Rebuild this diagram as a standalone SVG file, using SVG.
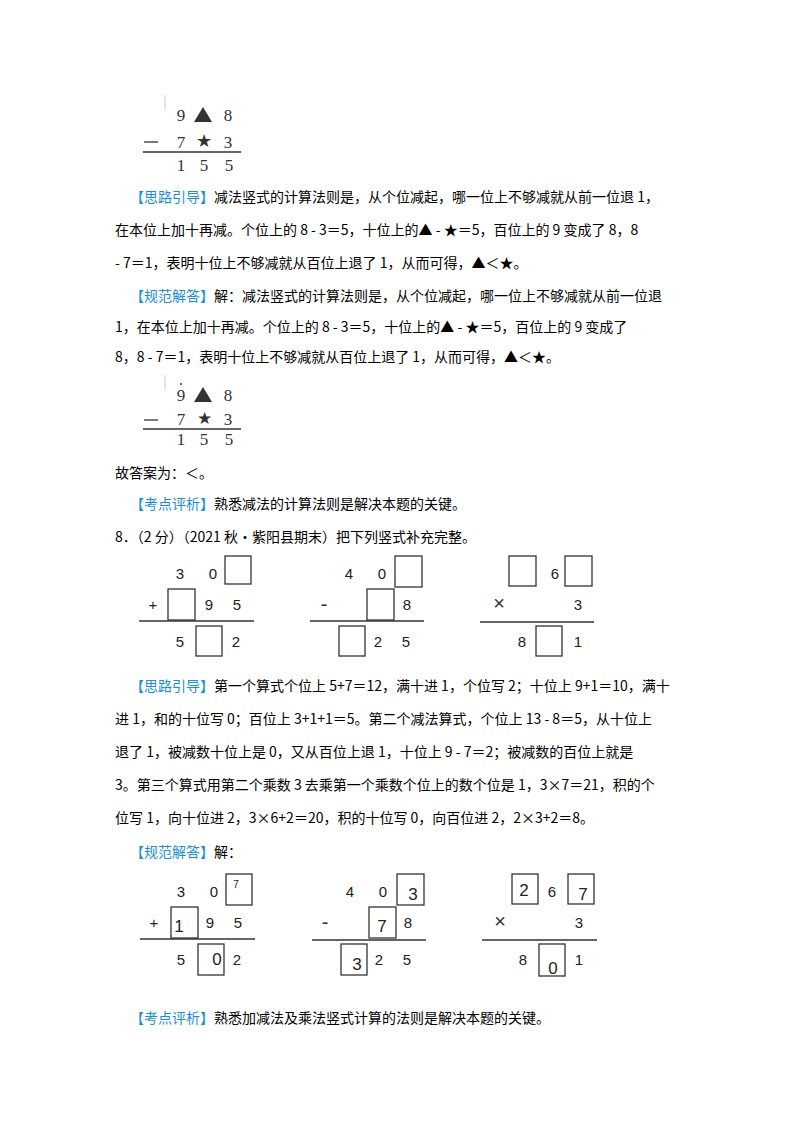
<svg xmlns="http://www.w3.org/2000/svg" width="800" height="1132" viewBox="0 0 800 1132">
<style>
text{font-family:"Noto Sans CJK SC","Liberation Serif",serif;font-size:14px;fill:#000}
.b{fill:#1a8fd6}
.d{font-family:"Liberation Sans",sans-serif;font-size:15px;text-anchor:middle;fill:#222}
.op{font-family:"Liberation Sans",sans-serif;font-size:20px;text-anchor:middle;fill:#333}
.s{font-family:"Liberation Serif",serif;font-size:17px;text-anchor:middle;fill:#333}
.box{fill:none;stroke:#333;stroke-width:1.3}
.ln{stroke:#333;stroke-width:1.3}
.a{font-family:"Liberation Sans",sans-serif;font-size:17px;text-anchor:middle;fill:#222}
</style>
<rect width="800" height="1132" fill="#fff"/>
<g id="fig1">
<line x1="165" y1="95" x2="165" y2="110" stroke="#ccc"/>
<text class="s" x="181" y="121">9</text><polygon points="203,107 194,122 212,122" fill="#333"/><text class="s" x="228" y="121">8</text>
<line x1="144" y1="142" x2="158" y2="142" class="ln"/><text class="s" x="181" y="148">7</text><text class="s" x="204" y="147" style="font-size:18px">★</text><text class="s" x="228" y="148">3</text>
<line x1="143" y1="152" x2="241" y2="152" class="ln"/>
<text class="s" x="181" y="171">1</text><text class="s" x="204" y="171">5</text><text class="s" x="229" y="171">5</text>
</g>
<g id="text1">
<text x="130" y="202"><tspan class="b">【思路引导】</tspan>减法竖式的计算法则是，从个位减起，哪一位上不够减就从前一位退 1，</text>
<text x="115" y="235">在本位上加十再减。个位上的 8 - 3＝5，十位上的▲ - ★＝5，百位上的 9 变成了 8，8</text>
<text x="115" y="268">- 7＝1，表明十位上不够减就从百位上退了 1，从而可得，▲＜★。</text>
<text x="130" y="301"><tspan class="b">【规范解答】</tspan>解：减法竖式的计算法则是，从个位减起，哪一位上不够减就从前一位退</text>
<text x="115" y="332">1，在本位上加十再减。个位上的 8 - 3＝5，十位上的▲ - ★＝5，百位上的 9 变成了</text>
<text x="115" y="362">8，8 - 7＝1，表明十位上不够减就从百位上退了 1，从而可得，▲＜★。</text>
</g>
<g id="fig2">
<line x1="165" y1="375" x2="165" y2="390" stroke="#ccc"/>
<circle cx="181" cy="384" r="1" fill="#333"/>
<text class="s" x="181" y="401">9</text><polygon points="203,387 194,402 212,402" fill="#333"/><text class="s" x="228" y="401">8</text>
<line x1="144" y1="420" x2="158" y2="420" class="ln"/><text class="s" x="181" y="425">7</text><text class="s" x="204" y="424" style="font-size:17px">★</text><text class="s" x="228" y="425">3</text>
<line x1="143" y1="429" x2="241" y2="429" class="ln"/>
<text class="s" x="181" y="445">1</text><text class="s" x="204" y="445">5</text><text class="s" x="229" y="445">5</text>
</g>
<g id="text2">
<text x="115" y="478">故答案为：＜。</text>
<text x="130" y="509"><tspan class="b">【考点评析】</tspan>熟悉减法的计算法则是解决本题的关键。</text>
<text x="115" y="542">8．（2 分）（2021 秋•紫阳县期末）把下列竖式补充完整。</text>
</g>
<g id="q">
<text class="d" x="180" y="579">3</text><text class="d" x="213" y="579">0</text><rect class="box" x="225" y="556" width="26" height="28"/>
<text class="d" x="153" y="610" fill="#888">+</text><rect class="box" x="168" y="589" width="27" height="31"/><text class="d" x="209" y="610">9</text><text class="d" x="237" y="610">5</text>
<line class="ln" x1="139" y1="621" x2="254" y2="621"/>
<text class="d" x="180" y="647">5</text><rect class="box" x="196" y="626" width="26" height="30"/><text class="d" x="236" y="647">2</text>

<text class="d" x="349" y="579">4</text><text class="d" x="382" y="579">0</text><rect class="box" x="395" y="556" width="27" height="31"/>
<text class="op" x="324" y="611">-</text><rect class="box" x="367" y="589" width="27" height="31"/><text class="d" x="407" y="610">8</text>
<line class="ln" x1="310" y1="621" x2="424" y2="621"/>
<rect class="box" x="339" y="626" width="26" height="30"/><text class="d" x="378" y="647">2</text><text class="d" x="406" y="647">5</text>

<rect class="box" x="509" y="556" width="27" height="30"/><text class="d" x="555" y="579">6</text><rect class="box" x="565" y="556" width="27" height="30"/>
<text class="op" x="499" y="610">×</text><text class="d" x="578" y="610">3</text>
<line class="ln" x1="480" y1="622" x2="594" y2="622"/>
<text class="d" x="522" y="647">8</text><rect class="box" x="536" y="626" width="26" height="30"/><text class="d" x="578" y="647">1</text>
</g>
<g id="text3">
<text x="130" y="691"><tspan class="b">【思路引导】</tspan>第一个算式个位上 5+7＝12，满十进 1，个位写 2；十位上 9+1＝10，满十</text>
<text x="115" y="724">进 1，和的十位写 0；百位上 3+1+1＝5。第二个减法算式，个位上 13 - 8＝5，从十位上</text>
<text x="115" y="757">退了 1，被减数十位上是 0，又从百位上退 1，十位上 9 - 7＝2；被减数的百位上就是</text>
<text x="115" y="790">3。第三个算式用第二个乘数 3 去乘第一个乘数个位上的数个位是 1，3×7＝21，积的个</text>
<text x="115" y="823">位写 1，向十位进 2，3×6+2＝20，积的十位写 0，向百位进 2，2×3+2＝8。</text>
<text x="130" y="857"><tspan class="b">【规范解答】</tspan>解：</text>
</g>
<g id="ans" transform="translate(1,318)">
<text class="d" x="180" y="579">3</text><text class="d" x="213" y="579">0</text><rect class="box" x="225" y="556" width="26" height="31"/><text class="d" x="235" y="570" style="font-size:10px">7</text>
<text class="d" x="153" y="610" fill="#888">+</text><rect class="box" x="170" y="589" width="27" height="31"/><text class="a" x="178" y="614">1</text><text class="d" x="209" y="610">9</text><text class="d" x="237" y="610">5</text>
<line class="ln" x1="139" y1="621" x2="254" y2="621"/>
<text class="d" x="180" y="647">5</text><rect class="box" x="197" y="626" width="26" height="31"/><text class="a" x="216" y="647">0</text><text class="d" x="236" y="647">2</text>

<text class="d" x="349" y="579">4</text><text class="d" x="382" y="579">0</text><rect class="box" x="396" y="556" width="27" height="31"/><text class="a" x="412" y="582">3</text>
<text class="op" x="324" y="611">-</text><rect class="box" x="368" y="589" width="27" height="31"/><text class="a" x="381" y="614">7</text><text class="d" x="407" y="610">8</text>
<line class="ln" x1="311" y1="622" x2="425" y2="622"/>
<rect class="box" x="340" y="626" width="26" height="31"/><text class="a" x="356" y="652">3</text><text class="d" x="378" y="647">2</text><text class="d" x="406" y="647">5</text>

<rect class="box" x="511" y="556" width="26" height="30"/><text class="a" x="523" y="578">2</text><text class="d" x="551" y="579">6</text><rect class="box" x="567" y="556" width="26" height="30"/><text class="a" x="582" y="582">7</text>
<text class="op" x="499" y="610">×</text><text class="d" x="578" y="610">3</text>
<line class="ln" x1="481" y1="622" x2="596" y2="622"/>
<text class="d" x="522" y="647">8</text><rect class="box" x="538" y="626" width="26" height="32"/><text class="a" x="552" y="656">0</text><text class="d" x="578" y="647">1</text>
</g>
<g id="text4">
<text x="130" y="1023"><tspan class="b">【考点评析】</tspan>熟悉加减法及乘法竖式计算的法则是解决本题的关键。</text>
</g>
</svg>
